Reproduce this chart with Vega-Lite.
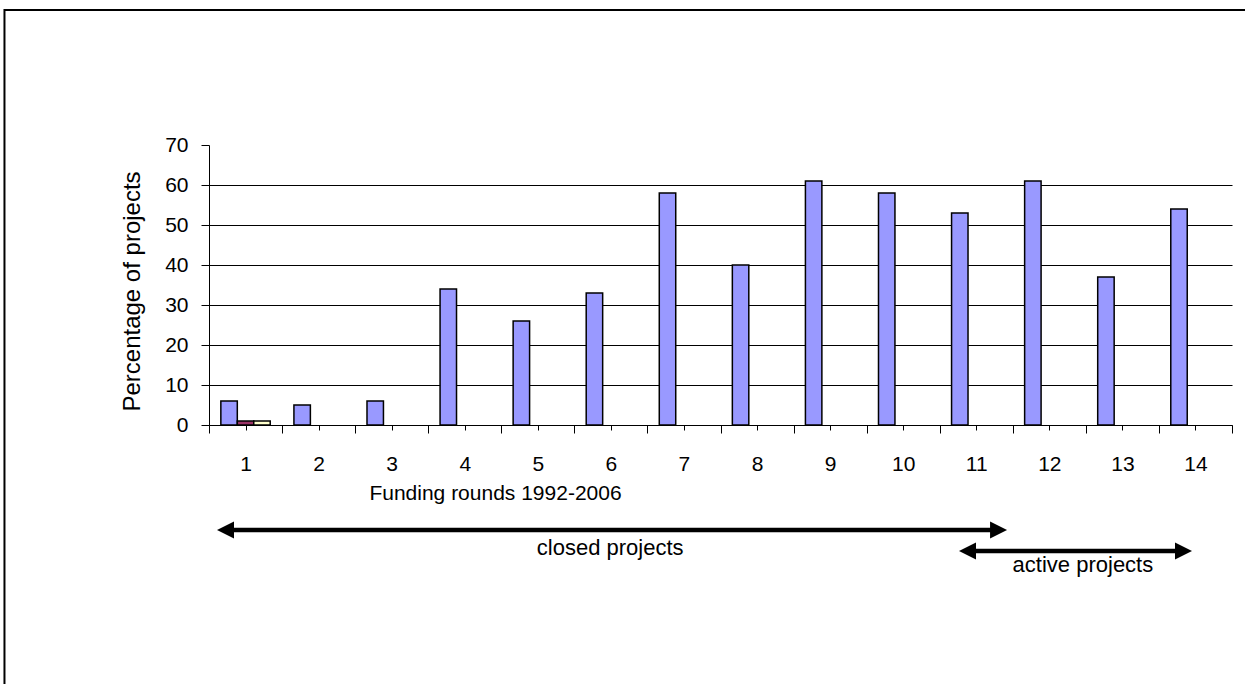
{
  "$schema": "https://vega.github.io/schema/vega-lite/v6.json",
  "width": 1023,
  "height": 280,
  "autosize": "none",
  "padding": {"left": 209, "top": 145, "right": 13, "bottom": 259},
  "background": "white",
  "config": {
    "view": {"stroke": null},
    "font": "Liberation Sans",
    "axis": {
      "labelFont": "Liberation Sans",
      "titleFont": "Liberation Sans",
      "labelColor": "black",
      "titleColor": "black",
      "titleFontWeight": "normal",
      "labelFontSize": 21,
      "titleFontSize": 21,
      "domainColor": "black",
      "tickColor": "black",
      "domainWidth": 1,
      "tickWidth": 1
    }
  },
  "datasets": {
    "rounds": [
      {"round": 1, "series": "Series 1", "pct": 6},
      {"round": 1, "series": "Series 2", "pct": 1},
      {"round": 1, "series": "Series 3", "pct": 1},
      {"round": 2, "series": "Series 1", "pct": 5},
      {"round": 3, "series": "Series 1", "pct": 6},
      {"round": 4, "series": "Series 1", "pct": 34},
      {"round": 5, "series": "Series 1", "pct": 26},
      {"round": 6, "series": "Series 1", "pct": 33},
      {"round": 7, "series": "Series 1", "pct": 58},
      {"round": 8, "series": "Series 1", "pct": 40},
      {"round": 9, "series": "Series 1", "pct": 61},
      {"round": 10, "series": "Series 1", "pct": 58},
      {"round": 11, "series": "Series 1", "pct": 53},
      {"round": 12, "series": "Series 1", "pct": 61},
      {"round": 13, "series": "Series 1", "pct": 37},
      {"round": 14, "series": "Series 1", "pct": 54}
    ],
    "spans": [
      {"label": "closed projects", "x1": 0.726, "x2": 11.305, "y": -26.25, "tx": 5.99, "ty": -32.5},
      {"label": "active projects", "x1": 10.88, "x2": 13.836, "y": -31.5, "tx": 12.46, "ty": -36.75}
    ]
  },
  "layer": [
    {
      "data": {"name": "rounds"},
      "mark": {"type": "bar", "stroke": "black", "strokeWidth": 1.5},
      "encoding": {
        "x": {
          "field": "round",
          "type": "ordinal",
          "scale": {"paddingInner": 0, "paddingOuter": 0},
          "axis": {
            "orient": "bottom",
            "title": "Funding rounds 1992-2006",
            "labelAngle": 0,
            "tickBand": "extent",
            "tickSize": 8,
            "labelPadding": 20,
            "titleX": 286,
            "titleY": 74,
            "titleAlign": "center",
            "titleBaseline": "alphabetic"
          }
        },
        "xOffset": {
          "field": "series",
          "scale": {"domain": ["Series 1", "Series 2", "Series 3"], "paddingInner": 0, "paddingOuter": 0.72}
        },
        "y": {
          "field": "pct",
          "type": "quantitative",
          "scale": {"domain": [0, 70], "nice": false},
          "axis": {
            "orient": "left",
            "title": "Percentage of projects",
            "titleFontSize": 24,
            "values": [0, 10, 20, 30, 40, 50, 60, 70],
            "labelOverlap": false,
            "tickSize": 8,
            "labelPadding": 13,
            "grid": true,
            "gridColor": "black",
            "gridWidth": 1,
            "gridOpacity": {"condition": {"test": "datum.value === 70", "value": 0}, "value": 1},
            "titleX": -70,
            "titleY": 146,
            "titleAlign": "center",
            "titleBaseline": "alphabetic"
          }
        },
        "color": {
          "field": "series",
          "scale": {"domain": ["Series 1", "Series 2", "Series 3"], "range": ["#9999FF", "#993366", "#FFFFCC"]},
          "legend": null
        }
      }
    },
    {
      "layer": [
        {
          "data": {"values": [{}]},
          "mark": {"type": "rect", "fill": null, "stroke": "black", "strokeWidth": 2},
          "encoding": {
            "x": {"datum": -2.299, "type": "quantitative", "scale": {"domain": [0.5, 14.5], "nice": false, "zero": false},
                  "axis": {"orient": "bottom", "values": [1,2,3,4,5,6,7,8,9,10,11,12,13,14], "labels": false, "tickSize": 5, "domain": false, "grid": false, "title": null}},
            "x2": {"datum": 16},
            "y": {"datum": 103.75, "type": "quantitative", "axis": null},
            "y2": {"datum": -80}
          }
        },
        {
          "data": {"name": "spans"},
          "mark": {"type": "rule", "color": "black", "strokeWidth": 4.5},
          "encoding": {
            "x": {"field": "x1", "type": "quantitative", "scale": {"domain": [0.5, 14.5], "nice": false, "zero": false},
                  "axis": {"orient": "bottom", "values": [1,2,3,4,5,6,7,8,9,10,11,12,13,14], "labels": false, "tickSize": 5, "domain": false, "grid": false, "title": null}},
            "x2": {"field": "x2"},
            "y": {"field": "y", "type": "quantitative", "axis": null}
          }
        },
        {
          "data": {"name": "spans"},
          "transform": [{"fold": ["x1", "x2"], "as": ["end", "pos"]}],
          "mark": {"type": "point", "filled": true, "color": "black", "opacity": 1, "size": 289, "strokeWidth": 0},
          "encoding": {
            "x": {"field": "pos", "type": "quantitative", "scale": {"domain": [0.5, 14.5], "nice": false, "zero": false},
                  "axis": {"orient": "bottom", "values": [1,2,3,4,5,6,7,8,9,10,11,12,13,14], "labels": false, "tickSize": 5, "domain": false, "grid": false, "title": null}},
            "y": {"field": "y", "type": "quantitative", "axis": null},
            "shape": {
              "field": "end",
              "type": "nominal",
              "scale": {"domain": ["x1", "x2"], "range": ["M-1,0L1,-1L1,1Z", "M1,0L-1,-1L-1,1Z"]},
              "legend": null
            }
          }
        },
        {
          "data": {"name": "spans"},
          "mark": {"type": "text", "fontSize": 22, "align": "center", "baseline": "alphabetic", "color": "black", "font": "Liberation Sans"},
          "encoding": {
            "x": {"field": "tx", "type": "quantitative", "scale": {"domain": [0.5, 14.5], "nice": false, "zero": false},
                  "axis": {"orient": "bottom", "values": [1,2,3,4,5,6,7,8,9,10,11,12,13,14], "labels": false, "tickSize": 5, "domain": false, "grid": false, "title": null}},
            "y": {"field": "ty", "type": "quantitative", "axis": null},
            "text": {"field": "label"}
          }
        }
      ]
    }
  ],
  "resolve": {"scale": {"x": "independent"}, "axis": {"x": "independent", "y": "independent"}}
}
